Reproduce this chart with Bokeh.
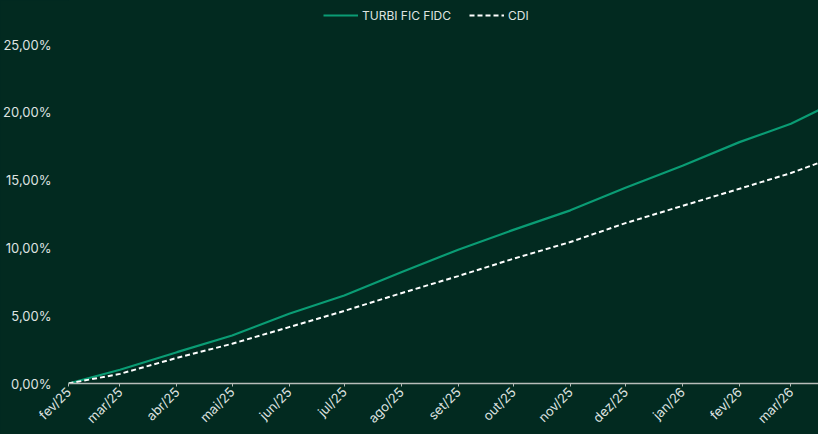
from datetime import datetime
from bokeh.plotting import figure
from bokeh.models import (ColumnDataSource, Legend, LegendItem, FixedTicker, Range1d)
from bokeh.embed import file_html
from bokeh.resources import INLINE
import math

# Data (cumulative return, %), read at month boundaries
dates = ["2025-02-01", "2025-03-01", "2025-04-01", "2025-05-01", "2025-06-01", "2025-07-01",
         "2025-08-01", "2025-09-01", "2025-10-01", "2025-11-01", "2025-12-01", "2026-01-01",
         "2026-02-01", "2026-03-01", "2026-03-16"]
turbi = [0.0, 1.01, 2.31, 3.54, 5.14, 6.49, 8.20, 9.87, 11.33, 12.77, 14.43, 16.06, 17.80, 19.16, 20.15]
cdi = [0.0, 0.71, 1.89, 2.93, 4.16, 5.35, 6.66, 7.92, 9.20, 10.43, 11.83, 13.10, 14.36, 15.52, 16.26]

tick_dates = ["2025-02-01", "2025-03-01", "2025-04-01", "2025-05-01", "2025-06-01", "2025-07-01",
              "2025-08-01", "2025-09-01", "2025-10-01", "2025-11-01", "2025-12-01", "2026-01-01",
              "2026-02-01", "2026-03-01"]
tick_labels = ["fev/25", "mar/25", "abr/25", "mai/25", "jun/25", "jul/25", "ago/25", "set/25",
               "out/25", "nov/25", "dez/25", "jan/26", "fev/26", "mar/26"]
y_ticks = [0, 5, 10, 15, 20, 25]
y_labels = ["0,00%", "5,00%", "10,00%", "15,00%", "20,00%", "25,00%"]

def ms(s):
    return datetime.strptime(s, "%Y-%m-%d").timestamp() * 1000.0

x = [ms(d) for d in dates]
src = ColumnDataSource(dict(x=x, turbi=turbi, cdi=cdi))

BG = "#022a20"
TXT = "#dfe3e0"
FONT = "Inter"

# frame spans from the top of the canvas; 25% sits 44px below the top
p = figure(width=818, height=434, output_backend="svg", toolbar_location=None,
           x_axis_type="datetime",
           x_range=Range1d(ms("2025-02-01"), ms("2026-03-16")),
           y_range=Range1d(0, 28.245))
p.styles = {"background-color": BG}
p.background_fill_color = BG
p.border_fill_color = BG
p.outline_line_color = None
p.min_border_left = 67
p.min_border_right = 0
p.min_border_top = 0
p.min_border_bottom = 51
p.xgrid.visible = False
p.ygrid.visible = False

r1 = p.line("x", "turbi", source=src, line_color="#0a9c74", line_width=2.2)
r2 = p.line("x", "cdi", source=src, line_color="#ffffff", line_width=2, line_dash="5 3")

# x axis
tick_ms = [ms(d) for d in tick_dates]
p.xaxis.ticker = FixedTicker(ticks=tick_ms)
p.xaxis.major_label_overrides = {t: l for t, l in zip(tick_ms, tick_labels)}
p.xaxis.major_label_orientation = math.pi / 4
p.xaxis.axis_line_color = "#b8bdb9"
p.xaxis.axis_line_width = 1.5
p.xaxis.major_tick_line_color = "#b8bdb9"
p.xaxis.major_tick_in = 0
p.xaxis.major_tick_out = 3
p.xaxis.minor_tick_line_color = None
p.xaxis.major_label_text_color = TXT
p.xaxis.major_label_text_font = FONT
p.xaxis.major_label_text_font_size = "13px"
p.xaxis.major_label_standoff = 3

# y axis
p.yaxis.ticker = FixedTicker(ticks=y_ticks)
p.yaxis.major_label_overrides = {t: l for t, l in zip(y_ticks, y_labels)}
p.yaxis.axis_line_color = None
p.yaxis.major_tick_line_color = None
p.yaxis.minor_tick_line_color = None
p.yaxis.major_label_text_color = TXT
p.yaxis.major_label_text_font = FONT
p.yaxis.major_label_text_font_size = "13px"
p.yaxis.major_label_standoff = 11

legend = Legend(items=[LegendItem(label="TURBI FIC FIDC", renderers=[r1]),
                       LegendItem(label="CDI", renderers=[r2])],
                orientation="horizontal", location=(255, 358),
                background_fill_alpha=0, border_line_color=None,
                label_text_color=TXT, label_text_font=FONT, label_text_font_size="12px",
                glyph_width=35, glyph_height=20, label_height=20, label_standoff=4,
                spacing=18, padding=0, margin=0)
p.add_layout(legend, "center")

open("out.html", "w").write(file_html(p, INLINE))
